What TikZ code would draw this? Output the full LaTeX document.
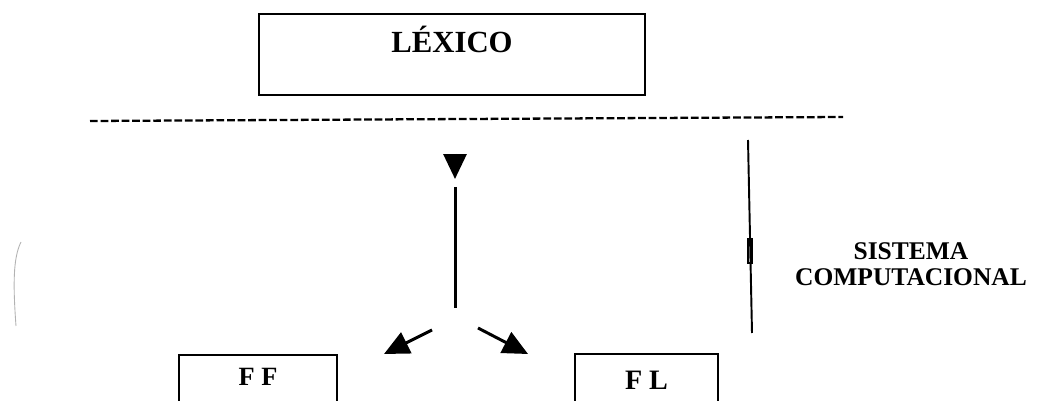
\documentclass[tikz,border=0pt]{standalone}
\usepackage{fontspec}
\setmainfont{Liberation Serif}
\usepackage{tikz}
\usetikzlibrary{shapes,arrows.meta}
\usetikzlibrary{positioning}
\tikzstyle{block} = [rectangle, draw, line width=1.1pt, text centered,
    font=\bfseries]
\tikzstyle{line} = [draw, line width=1.7pt,
    -{Triangle[length=0.5cm,width=0.46cm]}]
\tikzstyle{stem} = [draw, line width=1.7pt]
\tikzstyle{border} = [draw, line width=1.3pt, dash pattern=on 4.4pt off 1.6pt]

\begin{document}
\begin{tikzpicture}[x=0.02cm, y=-0.02cm]
  \useasboundingbox (0,0) rectangle (1037,401);
  \clip (0,0) rectangle (1037,401);
  % Place nodes
  \node [block, minimum width=7.72cm, minimum height=1.62cm,
         text height=0.42cm, text depth=0.48cm,
         font=\bfseries\fontsize{17.5}{20}\selectfont] (lexico) at (452,54.5) {LÉXICO};
  \node [block, anchor=north, minimum width=3.16cm, minimum height=1.4cm,
         text height=0.36cm, text depth=0.54cm,
         font=\bfseries\fontsize{15}{17}\selectfont] (ff) at (258,354) {F F};
  \node [block, anchor=north, minimum width=2.86cm, minimum height=1.4cm,
         text height=0.38cm, text depth=0.36cm,
         font=\bfseries\fontsize{16}{18}\selectfont] (fl) at (646.5,353) {F L};
  \node [align=center, font=\bfseries\fontsize{14.5}{14.5}\selectfont,
         inner sep=0pt] (sistema) at (911,264) {SISTEMA\\COMPUTACIONAL};
  % Points for the arrows
  \coordinate (headtop) at (455,154);
  \coordinate (headtip) at (455,179);
  \coordinate (stemtop) at (455,187);
  \coordinate (stembot) at (455,308);
  \coordinate (leftfrom) at (432,330);
  \coordinate (lefttip) at (384,354);
  \coordinate (rightfrom) at (478,328);
  \coordinate (righttip) at (528,354);
  \coordinate (dashl) at (90,121);
  \coordinate (dashr) at (843,117);
  \coordinate (bartop) at (748,140);
  \coordinate (barbot) at (752,333);
  % Draw edges
  \draw [border] (dashl) -- (dashr);
  \path [line] (headtop) -- (headtip);
  \path [stem] (stemtop) -- (stembot);
  \path [line] (leftfrom) -- (lefttip);
  \path [line] (rightfrom) -- (righttip);
  \draw [line width=1.1pt] (bartop) -- (barbot);
  \draw [line width=0.7pt] (748,239) rectangle (752,263);
  % faint mark at the left margin
  \draw [gray!60, line width=0.5pt] (21,242) .. controls (13,258) and (13,285) .. (16,326);
\end{tikzpicture}
\end{document}
